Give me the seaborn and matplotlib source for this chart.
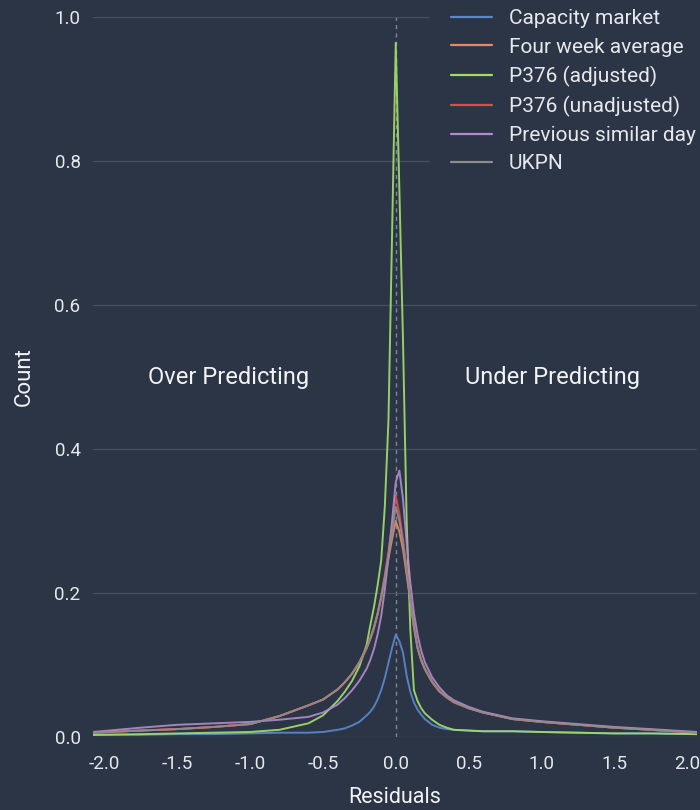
import numpy as np
import pandas as pd
import matplotlib
matplotlib.use("Agg")
import matplotlib.pyplot as plt
import seaborn as sns

# Residual grid shared by all models (finer around zero)
residuals = [-2.08, -1.75, -1.5, -1.25, -1.0, -0.8, -0.6, -0.5, -0.4, -0.35,
             -0.3, -0.25, -0.2, -0.175, -0.15, -0.125, -0.1, -0.075, -0.05, -0.025,
             0.0, 0.025, 0.05, 0.075, 0.1, 0.125, 0.15, 0.175, 0.2, 0.25,
             0.3, 0.35, 0.4, 0.5, 0.6, 0.8, 1.0, 1.25, 1.5, 1.75, 2.07]

capacity_market = [0.003, 0.003, 0.004, 0.004, 0.005, 0.006, 0.006, 0.007, 0.010, 0.012,
                   0.016, 0.021, 0.030, 0.035, 0.042, 0.052, 0.065, 0.082, 0.103, 0.124,
                   0.142, 0.133, 0.117, 0.085, 0.063, 0.048, 0.038, 0.031, 0.025, 0.017,
                   0.013, 0.011, 0.010, 0.009, 0.008, 0.008, 0.007, 0.006, 0.005, 0.005, 0.004]

four_week_average = [0.006, 0.009, 0.011, 0.014, 0.018, 0.029, 0.044, 0.052, 0.066, 0.076,
                     0.088, 0.103, 0.123, 0.136, 0.151, 0.170, 0.193, 0.220, 0.248, 0.275,
                     0.300, 0.285, 0.260, 0.225, 0.188, 0.152, 0.123, 0.106, 0.094, 0.076,
                     0.063, 0.055, 0.048, 0.040, 0.034, 0.025, 0.021, 0.017, 0.013, 0.010, 0.006]

p376_adjusted = [0.003, 0.004, 0.005, 0.006, 0.007, 0.010, 0.019, 0.030, 0.050, 0.063,
                 0.078, 0.098, 0.128, 0.155, 0.180, 0.210, 0.245, 0.320, 0.440, 0.700,
                 0.964, 0.760, 0.550, 0.300, 0.150, 0.065, 0.050, 0.040, 0.033, 0.024,
                 0.017, 0.013, 0.010, 0.009, 0.008, 0.008, 0.007, 0.006, 0.005, 0.005, 0.004]

p376_unadjusted = [0.006, 0.009, 0.011, 0.014, 0.018, 0.029, 0.044, 0.052, 0.066, 0.076,
                   0.088, 0.104, 0.124, 0.137, 0.152, 0.172, 0.196, 0.225, 0.258, 0.295,
                   0.335, 0.310, 0.275, 0.235, 0.192, 0.155, 0.125, 0.108, 0.095, 0.077,
                   0.064, 0.055, 0.049, 0.040, 0.034, 0.025, 0.021, 0.017, 0.013, 0.010, 0.006]

previous_similar_day = [0.007, 0.013, 0.017, 0.019, 0.021, 0.024, 0.028, 0.034, 0.045, 0.054,
                        0.065, 0.078, 0.095, 0.107, 0.122, 0.142, 0.168, 0.205, 0.250, 0.300,
                        0.354, 0.370, 0.330, 0.270, 0.215, 0.172, 0.142, 0.120, 0.104, 0.083,
                        0.069, 0.058, 0.051, 0.042, 0.035, 0.026, 0.022, 0.018, 0.014, 0.011, 0.007]

ukpn = [0.006, 0.009, 0.011, 0.014, 0.018, 0.029, 0.044, 0.052, 0.066, 0.076,
        0.088, 0.104, 0.124, 0.137, 0.152, 0.171, 0.195, 0.222, 0.253, 0.285,
        0.320, 0.300, 0.270, 0.230, 0.190, 0.154, 0.124, 0.107, 0.095, 0.077,
        0.064, 0.055, 0.049, 0.040, 0.034, 0.025, 0.021, 0.017, 0.013, 0.010, 0.006]

model_names = ["Capacity market", "Four week average", "P376 (adjusted)",
               "P376 (unadjusted)", "Previous similar day", "UKPN"]
model_colors = ["#5b87cc", "#e68a68", "#a2dc6a", "#dd4b4b", "#ae8cc8", "#8d8d8d"]

series = [capacity_market, four_week_average, p376_adjusted,
          p376_unadjusted, previous_similar_day, ukpn]

df = pd.concat(
    [pd.DataFrame({"Residuals": residuals, "Count": vals, "Model": name})
     for name, vals in zip(model_names, series)],
    ignore_index=True,
)

bg = "#2b3546"
sns.set_theme(style="dark")
plt.rcParams["font.family"] = ["Roboto", "DejaVu Sans"]
plt.rcParams["axes.unicode_minus"] = False

fig = plt.figure(figsize=(7, 8.1), dpi=100, facecolor=bg)
ax = fig.add_axes([0.1329, 0.0901, 0.8628, 0.8889])
ax.set_facecolor(bg)

sns.lineplot(data=df, x="Residuals", y="Count", hue="Model",
             palette=dict(zip(model_names, model_colors)),
             estimator=None, linewidth=1.4, alpha=0.92, ax=ax)

ax.axvline(0, color="#7f8794", linestyle=(0, (3, 3)), linewidth=1.0, zorder=0)

ax.set_xlim(min(residuals), max(residuals))
ax.set_ylim(0, 1.0)
ax.set_xticks([-2.0, -1.5, -1.0, -0.5, 0.0, 0.5, 1.0, 1.5, 2.0])
ax.set_yticks([0.0, 0.2, 0.4, 0.6, 0.8, 1.0])
ax.xaxis.set_major_formatter(matplotlib.ticker.FormatStrFormatter("%.1f"))
ax.yaxis.set_major_formatter(matplotlib.ticker.FormatStrFormatter("%.1f"))

ax.grid(axis="y", color="#465063", linewidth=0.9)
ax.grid(axis="x", visible=False)
for s in ax.spines.values():
    s.set_visible(False)

ax.tick_params(axis="both", colors="#e6e8ec", labelsize=13.5, length=0)
ax.tick_params(axis="x", pad=13)
ax.tick_params(axis="y", pad=9)

ax.set_xlabel("Residuals", color="#f2f3f5", fontsize=15.5, labelpad=10)
ax.set_ylabel("Count", color="#f2f3f5", fontsize=16, labelpad=14)

ax.text(-1.15, 0.5, "Over Predicting", color="#f2f3f5", fontsize=17,
        ha="center", va="center")
ax.text(1.08, 0.5, "Under Predicting", color="#f2f3f5", fontsize=17,
        ha="center", va="center")

handles, labels = ax.get_legend_handles_labels()
leg = ax.legend(handles, labels, loc="upper right", bbox_to_anchor=(1.05, 1.054),
                fontsize=15, frameon=True, facecolor=bg, edgecolor=bg, framealpha=1.0,
                borderpad=1.0, handlelength=2.0, handletextpad=0.8, labelspacing=0.44)
for t in leg.get_texts():
    t.set_color("#e6e8ec")
for h in leg.get_lines():
    h.set_linewidth(1.6)
    h.set_alpha(1.0)

fig.savefig("out.png", dpi=100, facecolor=bg)
